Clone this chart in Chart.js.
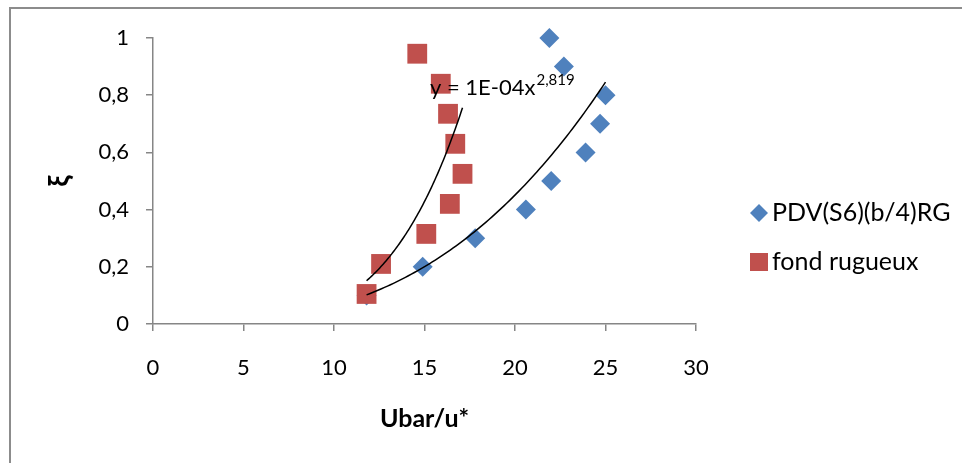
<!DOCTYPE html>
<html>
<head>
<meta charset="utf-8">
<script src="https://cdn.jsdelivr.net/npm/chart.js@4.4.1/dist/chart.umd.min.js"></script>
<style>
  html, body { margin: 0; padding: 0; background: #ffffff; }
  #wrap { width: 962px; height: 463px; position: relative; }
</style>
</head>
<body>
<div id="wrap"><canvas id="c" width="962" height="463"></canvas></div>
<script>
// Axis ticks
const xTicks = [0, 5, 10, 15, 20, 25, 30];
const yTicks = [0, 0.2, 0.4, 0.6, 0.8, 1];
const yTickLabels = ['0', '0,2', '0,4', '0,6', '0,8', '1'];

// Series: PDV(S6)(b/4)RG
const pdvName = 'PDV(S6)(b/4)RG';
const pdvX = [11.8, 14.9, 17.8, 20.6, 22.0, 23.9, 24.7, 25.0, 22.7, 21.9];
const pdvY = [0.1, 0.2, 0.3, 0.4, 0.5, 0.6, 0.7, 0.8, 0.9, 1.0];

// Series: fond rugueux
const fondName = 'fond rugueux';
const fondX = [11.8, 12.6, 15.1, 16.4, 17.1, 16.7, 16.3, 15.9, 14.6];
const fondY = [0.105, 0.21, 0.315, 0.42, 0.525, 0.63, 0.735, 0.84, 0.945];

// Trendline equation shown for the PDV power fit
const equationMain = 'y = 1E-04x';
const equationExp = '2,819';

const xTitle = 'Ubar/u*';
const yTitle = 'ξ';

const BLUE = '#4F81BD';
const RED = '#C0504D';
const AXIS = '#868686';
const FONT = 'Lato, "Open Sans", sans-serif';

// Least-squares power fit y = a * x^b (in log space)
function powerFit(xs, ys) {
  const n = xs.length;
  let sx = 0, sy = 0, sxx = 0, sxy = 0;
  for (let i = 0; i < n; i++) {
    const lx = Math.log(xs[i]), ly = Math.log(ys[i]);
    sx += lx; sy += ly; sxx += lx * lx; sxy += lx * ly;
  }
  const b = (n * sxy - sx * sy) / (n * sxx - sx * sx);
  const a = Math.exp((sy - b * sx) / n);
  return { a, b };
}

function trendCurve(xs, ys) {
  const { a, b } = powerFit(xs, ys);
  const lo = Math.min(...xs), hi = Math.max(...xs);
  const pts = [];
  const steps = 80;
  for (let i = 0; i <= steps; i++) {
    const x = lo + (hi - lo) * i / steps;
    pts.push({ x, y: a * Math.pow(x, b) });
  }
  return pts;
}

const toPoints = (xs, ys) => xs.map((x, i) => ({ x, y: ys[i] }));

// Frame, legend and equation label
const decor = {
  id: 'decor',
  afterDraw(chart) {
    const ctx = chart.ctx;
    ctx.save();
    // outer frame (left and top edges)
    ctx.strokeStyle = '#8c8c8c';
    ctx.lineWidth = 2;
    ctx.beginPath();
    ctx.moveTo(10, 463);
    ctx.lineTo(10, 8);
    ctx.lineTo(962, 8);
    ctx.stroke();

    // equation label
    ctx.fillStyle = '#000';
    ctx.textBaseline = 'alphabetic';
    ctx.textAlign = 'left';
    ctx.font = '22px ' + FONT;
    ctx.fillText(equationMain, 430, 95);
    const w = ctx.measureText(equationMain).width;
    ctx.font = '15px ' + FONT;
    ctx.fillText(equationExp, 430 + w + 1, 85);

    // legend
    const items = [
      { name: pdvName, color: BLUE, style: 'diamond', y: 213 },
      { name: fondName, color: RED, style: 'square', y: 262 }
    ];
    items.forEach(it => {
      ctx.fillStyle = it.color;
      const cx = 759;
      if (it.style === 'diamond') {
        ctx.beginPath();
        ctx.moveTo(cx, it.y - 9);
        ctx.lineTo(cx + 9, it.y);
        ctx.lineTo(cx, it.y + 9);
        ctx.lineTo(cx - 9, it.y);
        ctx.closePath();
        ctx.fill();
      } else {
        ctx.fillRect(cx - 9, it.y - 9, 18, 18);
      }
      ctx.fillStyle = '#000';
      ctx.font = '25px ' + FONT;
      ctx.textBaseline = 'middle';
      ctx.fillText(it.name, 772, it.y);
    });
    ctx.restore();
  }
};

Chart.defaults.font.family = FONT;
Chart.defaults.color = '#000';

new Chart(document.getElementById('c'), {
  type: 'scatter',
  data: {
    datasets: [
      {
        label: 'trend PDV', type: 'line', data: trendCurve(pdvX, pdvY),
        borderColor: '#000', borderWidth: 1.5, pointRadius: 0, fill: false, tension: 0
      },
      {
        label: 'trend fond', type: 'line', data: trendCurve(fondX, fondY),
        borderColor: '#000', borderWidth: 1.5, pointRadius: 0, fill: false, tension: 0
      },
      {
        label: fondName, data: toPoints(fondX, fondY), clip: false,
        pointStyle: 'rect', pointRadius: 14, pointHoverRadius: 14,
        backgroundColor: RED, borderColor: RED, borderWidth: 0
      },
      {
        label: pdvName, data: toPoints(pdvX, pdvY), clip: false,
        pointStyle: 'rectRot', pointRadius: 10, pointHoverRadius: 10,
        backgroundColor: BLUE, borderColor: BLUE, borderWidth: 0
      }
    ]
  },
  options: {
    responsive: false,
    animation: false,
    events: [],
    layout: { padding: { left: 0, top: 38, right: 266, bottom: 0 } },
    plugins: { legend: { display: false }, tooltip: { enabled: false } },
    scales: {
      x: {
        type: 'linear', min: 0, max: 30,
        afterBuildTicks: s => { s.ticks = xTicks.map(v => ({ value: v })); },
        afterFit: s => { s.height = 139; },
        ticks: { font: { size: 22 }, padding: 24, maxRotation: 0, color: '#000' },
        grid: { drawOnChartArea: false, tickLength: 7, color: AXIS, lineWidth: 1.5 },
        border: { color: AXIS, width: 1.5 },
        title: { display: true, text: xTitle, font: { size: 25, weight: 'bold' }, padding: { top: 29, bottom: 29 }, color: '#000' }
      },
      y: {
        type: 'linear', min: 0, max: 1,
        afterBuildTicks: s => { s.ticks = yTicks.map(v => ({ value: v })); },
        afterFit: s => { s.width = 153; },
        ticks: { font: { size: 22 }, padding: 17, color: '#000', callback: (v, i) => yTickLabels[i] },
        grid: { drawOnChartArea: false, tickLength: 7, color: AXIS, lineWidth: 1.5 },
        border: { color: AXIS, width: 1.5 },
        title: { display: true, text: yTitle, font: { size: 28, weight: 'bold' }, padding: { top: 43, bottom: 43 }, color: '#000' }
      }
    }
  },
  plugins: [decor]
});
</script>
</body>
</html>
